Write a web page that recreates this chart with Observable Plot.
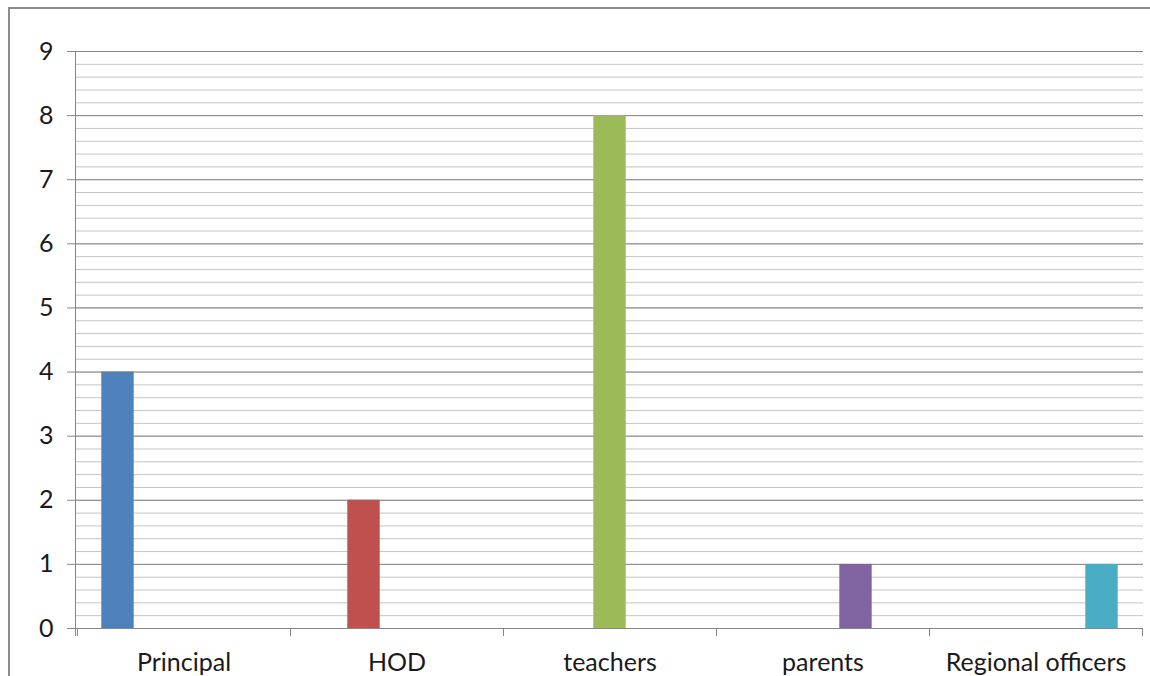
<!DOCTYPE html>
<html><head><meta charset="utf-8">
<script src="https://cdn.jsdelivr.net/npm/d3@7"></script>
<script src="https://cdn.jsdelivr.net/npm/@observablehq/plot@0.6"></script>
<style>
body{margin:0;background:#fff;}
#wrap{position:relative;width:1150px;height:676px;overflow:hidden;background:#fff}
#border{position:absolute;left:8px;top:7px;width:2000px;height:2000px;border-left:2px solid #8c8c8c;border-top:2px solid #8c8c8c;pointer-events:none}
</style></head><body>
<div id="wrap"><div id="chart"></div><div id="border"></div></div>
<script>
// ---- data ----
const categories = ["Principal", "HOD", "teachers", "parents", "Regional officers"];
const values = [4, 2, 8, 1, 1];
const colors = ["#4F81BD", "#C0504D", "#9BBB59", "#8064A2", "#4BACC6"];
const majorTicks = [0, 1, 2, 3, 4, 5, 6, 7, 8, 9];
const minorTicks = d3.range(0.2, 9, 0.2);

// ---- layout ----
const W = 1150, H = 676;
const mL = 75, mR = 7, mT = 51, mB = 48;
const bandW = (W - mL - mR) / categories.length;
const barW = 33;
const outer = (bandW - barW * categories.length) / 2;

const data = categories.map((c, i) => ({category: c, series: c, value: values[i]}));

function edges(index, scales, vals, dims) {
  const x = scales.x;
  const bw = x.bandwidth ? x.bandwidth() : bandW;
  const y0 = dims.height - dims.marginBottom;
  const g = d3.create("svg:g").attr("stroke", "#868686").attr("stroke-width", 1);
  const xs = categories.map(c => x(c)).concat([x(categories[categories.length - 1]) + bw]);
  for (const e of xs) {
    g.append("line").attr("x1", e + 0.5).attr("x2", e + 0.5).attr("y1", y0).attr("y2", y0 + 8);
  }
  g.append("line").attr("x1", dims.marginLeft + 0.5).attr("x2", dims.marginLeft + 0.5)
    .attr("y1", dims.marginTop).attr("y2", y0 + 8);
  return g.node();
}

const chart = Plot.plot({
  width: W, height: H,
  marginLeft: mL, marginRight: mR, marginTop: mT, marginBottom: mB,
  style: {fontFamily: "Lato, 'Open Sans', sans-serif", fontSize: "25px", background: "transparent"},
  x: {type: "band", domain: categories, padding: 0, label: null},
  y: {domain: [0, 9], label: null},
  marks: [
    Plot.ruleY(minorTicks, {stroke: "#c4c4c4", strokeWidth: 1}),
    Plot.ruleY(majorTicks, {stroke: "#878787", strokeWidth: 1}),
    ...categories.map((c, j) => Plot.barY(data.filter(d => d.series === c), {
      x: "category", y: "value", fill: colors[j],
      insetLeft: outer + barW * j,
      insetRight: bandW - outer - barW * (j + 1)
    })),
    Plot.axisY({ticks: majorTicks, tickSize: 8, tickPadding: 14, stroke: "#878787", fill: "#1a1a1a", label: null, fontSize: 25, tickFormat: d3.format("d")}),
    Plot.axisX({tickSize: 0, tickPadding: 25, fill: "#1a1a1a", label: null, fontSize: 25}),
    edges
  ]
});
document.getElementById("chart").appendChild(chart);
</script>
</body></html>
